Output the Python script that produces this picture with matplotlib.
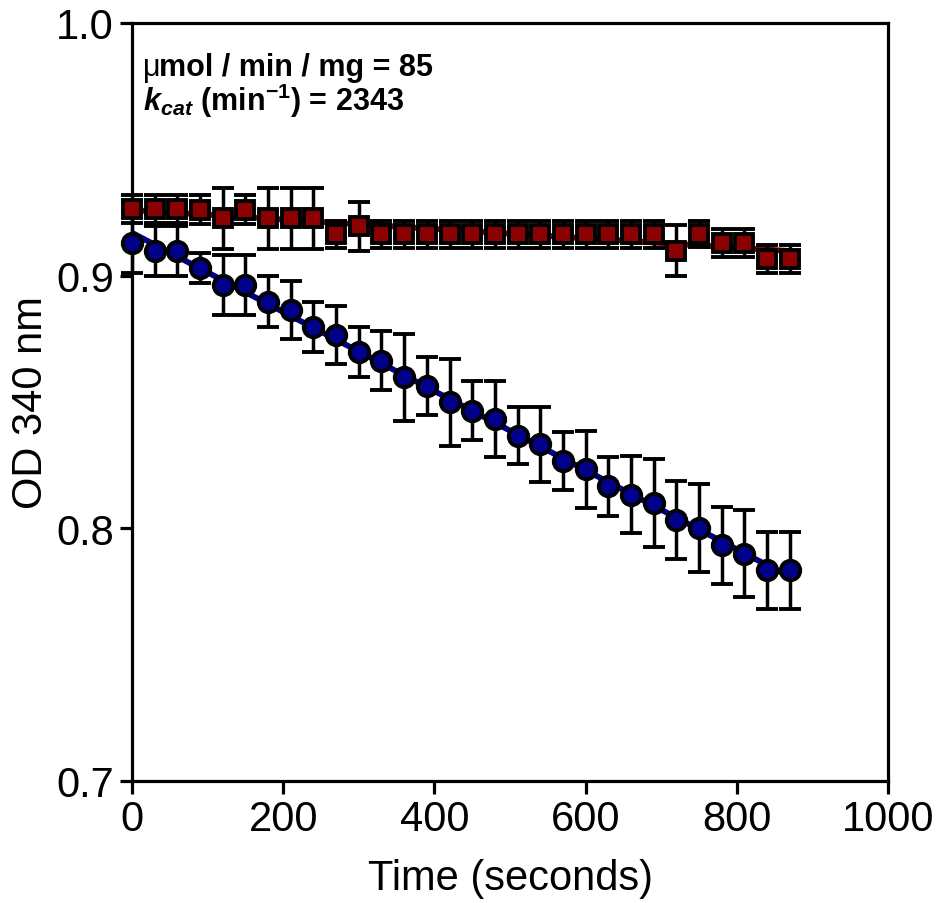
import matplotlib
matplotlib.use("Agg")
import matplotlib.pyplot as plt
import numpy as np

plt.rcParams['font.family'] = ['Liberation Sans', 'DejaVu Sans']
plt.rcParams['mathtext.fontset'] = 'custom'
plt.rcParams['mathtext.rm'] = 'Liberation Sans'
plt.rcParams['mathtext.it'] = 'Liberation Sans:italic'
plt.rcParams['mathtext.bf'] = 'Liberation Sans:bold'
plt.rcParams['mathtext.bfit'] = 'Liberation Sans:italic:bold'

# 数据：时间（秒）与 OD340 读数
time_s = [0, 30, 60, 90, 120, 150, 180, 210, 240, 270,
          300, 330, 360, 390, 420, 450, 480, 510, 540, 570,
          600, 630, 660, 690, 720, 750, 780, 810, 840, 870]

od_blue = [0.9130, 0.9097, 0.9097, 0.9029, 0.8963, 0.8963, 0.8897, 0.8864, 0.8797, 0.8764,
           0.8697, 0.8663, 0.8598, 0.8563, 0.8499, 0.8466, 0.8433, 0.8367, 0.8332, 0.8265,
           0.8233, 0.8166, 0.8133, 0.8100, 0.8033, 0.8000, 0.7933, 0.7899, 0.7833, 0.7833]
err_blue = [0.0120, 0.0100, 0.0100, 0.0060, 0.0117, 0.0117, 0.0100, 0.0115, 0.0100, 0.0115,
            0.0100, 0.0116, 0.0172, 0.0116, 0.0172, 0.0117, 0.0151, 0.0114, 0.0150, 0.0115,
            0.0154, 0.0116, 0.0152, 0.0173, 0.0153, 0.0174, 0.0152, 0.0172, 0.0152, 0.0152]

od_red = [0.9264, 0.9264, 0.9264, 0.9261, 0.9227, 0.9261, 0.9227, 0.9227, 0.9227, 0.9163,
          0.9195, 0.9163, 0.9163, 0.9163, 0.9163, 0.9163, 0.9163, 0.9163, 0.9163, 0.9163,
          0.9163, 0.9163, 0.9163, 0.9163, 0.9099, 0.9165, 0.9128, 0.9128, 0.9066, 0.9066]
err_red = [0.0057, 0.0057, 0.0057, 0.0057, 0.0120, 0.0057, 0.0120, 0.0120, 0.0120, 0.0053,
           0.0097, 0.0052, 0.0052, 0.0052, 0.0052, 0.0052, 0.0052, 0.0052, 0.0052, 0.0052,
           0.0052, 0.0052, 0.0052, 0.0052, 0.0100, 0.0050, 0.0055, 0.0055, 0.0056, 0.0056]

blue_c = '#00008b'
red_c = '#8b0000'

fig = plt.figure(figsize=(9.39, 9.04), dpi=100)
ax = fig.add_axes([0.1406, 0.1350, 0.8051, 0.8385])

t = np.array(time_s)
# 线性拟合
for y, c, z in [(od_blue, blue_c, 2), (od_red, red_c, 4)]:
    k, b = np.polyfit(t, y, 1)
    tt = np.array([t.min(), t.max()])
    ax.plot(tt, k * tt + b, color=c, lw=4.2, zorder=z, solid_capstyle='butt')

ax.errorbar(time_s, od_blue, yerr=err_blue, fmt='o', ms=14, mfc=blue_c, mec='black', mew=2.8,
            ecolor='black', elinewidth=2.5, capsize=8, capthick=2.5, zorder=3, clip_on=False)
ax.errorbar(time_s, od_red, yerr=err_red, fmt='s', ms=12.5, mfc=red_c, mec='black', mew=2.8,
            ecolor='black', elinewidth=2.5, capsize=8, capthick=2.5, zorder=5, clip_on=False)

ax.set_xlim(0, 1000)
ax.set_ylim(0.7, 1.0)
ax.set_xticks([0, 200, 400, 600, 800, 1000])
ax.set_yticks([0.7, 0.8, 0.9, 1.0])
ax.set_yticklabels(['0.7', '0.8', '0.9', '1.0'])

for s in ax.spines.values():
    s.set_linewidth(2.3)
ax.tick_params(direction='out', length=9, width=2.3, labelsize=30, pad=4)

ax.set_xlabel('Time (seconds)', fontsize=30, labelpad=14)
ax.set_ylabel('OD 340 nm', fontsize=30, labelpad=4)

# 描述信息
ax.text(0.014, 0.932, 'μ', transform=ax.transAxes, fontsize=22, va='baseline')
ax.text(0.036, 0.932, 'mol / min / mg = 85', transform=ax.transAxes, fontsize=22,
        fontweight='bold', va='baseline')
ax.text(0.014, 0.885, r'$\mathbfit{k}_{\mathbfit{cat}}$ (min$^{\mathbf{-1}}$) = 2343',
        transform=ax.transAxes, fontsize=22, fontweight='bold', va='baseline')

fig.savefig('out.png', dpi=100)
